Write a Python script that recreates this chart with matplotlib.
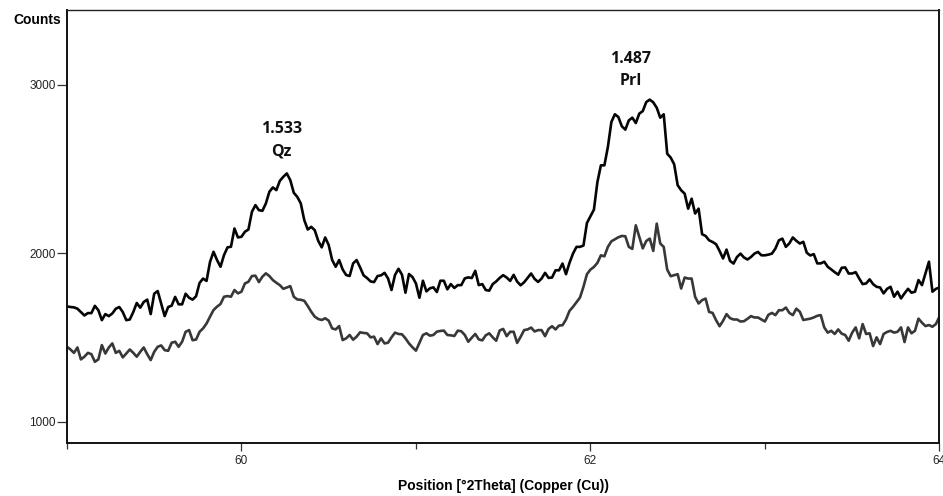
import numpy as np
import matplotlib.pyplot as plt

# scan settings (degrees 2theta)
two_theta_start = 59.0
two_theta_step = 0.02

# upper pattern, counts per step
counts_top = [
    1686, 1682, 1680, 1672, 1652, 1632, 1646, 1646, 1689, 1663, 1604, 1640, 1628, 1644,
    1672, 1682, 1652, 1604, 1608, 1652, 1706, 1678, 1712, 1726, 1640, 1761, 1777, 1702,
    1628, 1682, 1690, 1742, 1698, 1698, 1761, 1737, 1726, 1746, 1825, 1851, 1837, 1950,
    2010, 1961, 1921, 1990, 2036, 2040, 2148, 2095, 2099, 2129, 2142, 2247, 2287, 2257,
    2253, 2297, 2366, 2392, 2376, 2431, 2455, 2475, 2435, 2360, 2336, 2297, 2198, 2142,
    2158, 2138, 2075, 2036, 2095, 2050, 1961, 1921, 1961, 1905, 1872, 1866, 1941,
    1961, 1917, 1870, 1854, 1834, 1830, 1866, 1870, 1885, 1852, 1783, 1872, 1909, 1874,
    1767, 1878, 1860, 1822, 1737, 1838, 1775, 1793, 1799, 1771, 1838, 1838, 1787, 1818,
    1795, 1812, 1812, 1852, 1858, 1854, 1897, 1812, 1818, 1783, 1779, 1818, 1834, 1855,
    1871, 1857, 1837, 1873, 1833, 1811, 1829, 1855, 1881, 1849, 1831, 1851, 1885, 1855,
    1857, 1900, 1900, 1940, 1877, 1944, 1999, 2039, 2039, 2047, 2181, 2221, 2260, 2424,
    2523, 2523, 2632, 2780, 2826, 2810, 2755, 2735, 2790, 2806, 2774, 2830, 2845, 2899,
    2913, 2897, 2865, 2806, 2826, 2592, 2569, 2529, 2405, 2375, 2355, 2266, 2325, 2237,
    2266, 2114, 2104, 2078, 2068, 2055, 2015, 1970, 2023, 1956, 1940, 1979, 1999, 1976,
    1964, 1979, 1999, 2009, 1989, 1989, 1993, 1999, 2029, 2078, 2088, 2039, 2060,
    2095, 2075, 2059, 2069, 2004, 1988, 1996, 1941, 1941, 1951, 1921, 1905, 1889, 1874,
    1915, 1917, 1881, 1881, 1889, 1852, 1818, 1822, 1846, 1818, 1802, 1798, 1763, 1790,
    1802, 1743, 1773, 1733, 1763, 1790, 1767, 1773, 1842, 1812, 1881, 1951, 1773, 1790,
    1798,
]

# lower pattern, counts per step
counts_bottom = [
    1446, 1430, 1410, 1442, 1371, 1387, 1410, 1402, 1357, 1371, 1456, 1406, 1442, 1466,
    1410, 1422, 1383, 1406, 1430, 1410, 1387, 1416, 1442, 1402, 1367, 1416, 1446, 1454,
    1426, 1422, 1470, 1476, 1446, 1476, 1535, 1545, 1485, 1489, 1535, 1555, 1584, 1625,
    1664, 1684, 1700, 1743, 1747, 1743, 1783, 1763, 1773, 1822, 1832, 1866, 1868, 1830,
    1862, 1882, 1866, 1842, 1826, 1812, 1790, 1798, 1806, 1743, 1727, 1725, 1719, 1688,
    1654, 1625, 1611, 1605, 1615, 1601, 1555, 1549, 1569, 1486, 1496, 1516, 1488,
    1506, 1532, 1528, 1526, 1502, 1506, 1462, 1496, 1466, 1470, 1502, 1530, 1522, 1520,
    1496, 1466, 1443, 1423, 1470, 1516, 1526, 1512, 1516, 1536, 1540, 1542, 1516, 1514,
    1510, 1542, 1538, 1516, 1476, 1500, 1522, 1490, 1484, 1514, 1526, 1502, 1482, 1543,
    1552, 1509, 1535, 1535, 1469, 1505, 1545, 1549, 1560, 1537, 1545, 1545, 1509, 1552,
    1568, 1549, 1572, 1574, 1608, 1659, 1683, 1711, 1738, 1802, 1877, 1904, 1920, 1944,
    1989, 1983, 2039, 2072, 2084, 2096, 2104, 2102, 2039, 2027, 2167, 2098, 2030, 2074,
    2088, 2015, 2177, 2059, 2039, 1904, 1865, 1871, 1877, 1792, 1857, 1851, 1851, 1742,
    1703, 1723, 1732, 1653, 1647, 1604, 1568, 1600, 1640, 1616, 1608, 1608, 1596, 1598,
    1612, 1628, 1620, 1620, 1608, 1596, 1636, 1647, 1634, 1663, 1663, 1679, 1647,
    1634, 1672, 1654, 1605, 1609, 1613, 1620, 1630, 1634, 1561, 1530, 1541, 1522, 1549,
    1524, 1516, 1482, 1530, 1561, 1496, 1581, 1522, 1526, 1450, 1502, 1462, 1522, 1534,
    1541, 1530, 1535, 1561, 1474, 1561, 1526, 1541, 1613, 1589, 1569, 1575, 1565, 1581,
    1624,
]

# peak labels: d-spacing and phase
peak_pos = [60.229, 62.229]
peak_label_y = [2672, 3090]
peak_d = ["1.533", "1.487"]
peak_phase = ["Qz", "Prl"]

two_theta = two_theta_start + two_theta_step * np.arange(len(counts_top))

fig = plt.figure(figsize=(9.43, 4.96), dpi=100)
ax = fig.add_axes([0.0710, 0.1069, 0.9252, 0.8729])

ax.plot(two_theta, counts_top, color='#050505', lw=1.9, solid_joinstyle='round')
ax.plot(two_theta, counts_bottom, color='#383838', lw=1.9, solid_joinstyle='round')

for x, y, d, ph in zip(peak_pos, peak_label_y, peak_d, peak_phase):
    ax.text(x, y, f"{d}\n{ph}", ha='center', va='center', fontsize=11.5,
            fontweight='bold', family='Open Sans', linespacing=1.55, color='#111111')

ax.set_xlim(59, 64)
ax.set_ylim(875, 3445)
ax.set_xticks([60, 62, 64])
ax.set_xticks([59, 61, 63], minor=True)
ax.set_yticks([1000, 2000, 3000])

for lab in ax.get_xticklabels() + ax.get_yticklabels():
    lab.set_fontfamily('Liberation Sans')
    lab.set_fontsize(8.5)
    lab.set_color('#222222')

ax.tick_params(axis='x', which='major', length=6, width=0.9, pad=3, color='#333333')
ax.tick_params(axis='x', which='minor', length=4, width=0.9, color='#333333')
ax.tick_params(axis='y', which='major', length=7, width=0.9, pad=1, color='#333333')

for side in ['left', 'bottom', 'right']:
    ax.spines[side].set_linewidth(1.4)
    ax.spines[side].set_color('#111111')
ax.spines['top'].set_linewidth(1.0)
ax.spines['top'].set_color('#222222')

# axis titles
ax.set_xlabel('Position [°2Theta] (Copper (Cu))', family='Liberation Sans',
              fontsize=10, fontweight='bold', labelpad=8)
fig.text(0.014, 0.96, 'Counts', family='Liberation Sans', fontsize=10,
         fontweight='bold', ha='left', va='center')

fig.savefig('out.png', dpi=100)
